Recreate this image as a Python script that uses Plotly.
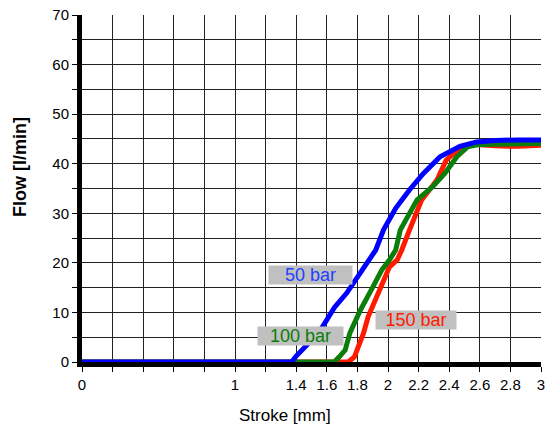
import plotly.graph_objects as go

# ---------- data ----------

stroke_50 = [0, 1.37, 1.40, 1.46, 1.52, 1.57, 1.65, 1.73, 1.80, 1.87, 1.92, 1.97, 2.05, 2.14, 2.23, 2.34, 2.47, 2.58, 2.70, 2.85, 3.0]
flow_50 = [0, 0, 1.2, 3, 5, 7, 11, 13.9, 17.2, 20.6, 22.6, 26.6, 31, 34.7, 38, 41.4, 43.5, 44.4, 44.7, 44.8, 44.8]

stroke_100 = [0, 1.65, 1.68, 1.72, 1.75, 1.82, 1.89, 1.96, 2.01, 2.05, 2.08, 2.19, 2.29, 2.37, 2.45, 2.52, 2.60, 2.75, 3.0]
flow_100 = [0, 0, 1, 2.4, 5.8, 10.5, 14.5, 18.6, 20.6, 22.6, 26.6, 32.7, 35.3, 38, 41.4, 43.4, 43.9, 44.0, 44.1]

stroke_150 = [0, 1.74, 1.78, 1.80, 1.84, 1.87, 1.915, 1.96, 2.01, 2.06, 2.09, 2.14, 2.22, 2.32, 2.38, 2.47, 2.55, 2.7, 2.85, 3.0]
flow_150 = [0, 0, 1, 2.4, 5.8, 9.1, 12.5, 15.9, 19.2, 20.6, 22.6, 26.6, 32.7, 36.7, 40.7, 43.2, 43.9, 43.6, 43.5, 43.7]

x_ticks = [0, 0.2, 0.4, 0.6, 0.8, 1, 1.2, 1.4, 1.6, 1.8, 2, 2.2, 2.4, 2.6, 2.8, 3]
x_labels = ['0', '', '', '', '', '1', '', '1.4', '1.6', '1.8', '2', '2.2', '2.4', '2.6', '2.8', '3']
y_ticks = [0, 5, 10, 15, 20, 25, 30, 35, 40, 45, 50, 55, 60, 65, 70]
y_labels = ['0', '', '10', '', '20', '', '30', '', '40', '', '50', '', '60', '', '70']

series = [
    ('150 bar', stroke_150, flow_150, '#ff1a00'),
    ('100 bar', stroke_100, flow_100, '#0a7d0a'),
    ('50 bar', stroke_50, flow_50, '#0000ff'),
]

fig = go.Figure()
for name, xs, ys, col in series:
    fig.add_trace(go.Scatter(x=xs, y=ys, mode='lines', name=name,
                             line=dict(color=col, width=5)))

# labels on grey boxes
labels = [
    ('50 bar', 1.493, 17.5, '#1f3fff', 83),
    ('100 bar', 1.428, 5.2, '#0a7d0a', 85),
    ('150 bar', 2.183, 8.4, '#ff1a00', 80),
]
for txt, lx, ly, col, w in labels:
    fig.add_annotation(x=lx, y=ly, text=txt, showarrow=False,
                       font=dict(color=col, size=18),
                       bgcolor='#c0c0c0', width=w - 2, height=16, borderpad=1)

# axis titles
fig.add_annotation(xref='paper', yref='paper', x=-0.135, y=0.562,
                   xanchor='center', yanchor='middle',
                   text='<b>Flow [l/min]</b>', textangle=-90, showarrow=False,
                   font=dict(size=18))
fig.add_annotation(xref='paper', yref='paper', x=0.442, y=-0.153,
                   xanchor='center', yanchor='middle',
                   text='Stroke [mm]', showarrow=False, font=dict(size=17))

fig.update_layout(
    width=546, height=425,
    margin=dict(l=82, r=5, t=15, b=63, autoexpand=False),
    plot_bgcolor='white', paper_bgcolor='white',
    showlegend=False,
    font=dict(family='Liberation Sans, Arial, sans-serif', size=15, color='black'),
)
fig.update_xaxes(range=[0, 3], tickvals=x_ticks, ticktext=x_labels,
                 showgrid=True, gridcolor='#222', gridwidth=1.3,
                 showline=True, linecolor='black', linewidth=5,
                 ticks='outside', ticklen=5, tickcolor='black', tickwidth=1.3,
                 zeroline=False, automargin=False, ticklabeloverflow='allow')
fig.update_yaxes(range=[0, 70], tickvals=y_ticks, ticktext=y_labels,
                 showgrid=True, gridcolor='#222', gridwidth=1.3,
                 showline=True, linecolor='black', linewidth=5,
                 ticks='outside', ticklen=5, tickcolor='black', tickwidth=1.3,
                 zeroline=False, automargin=False, ticklabeloverflow='allow')

# drop the default page margin so the figure fills the window
fig.write_html("out.html", config={'displayModeBar': False},
               post_script="document.body.style.margin='0';")
